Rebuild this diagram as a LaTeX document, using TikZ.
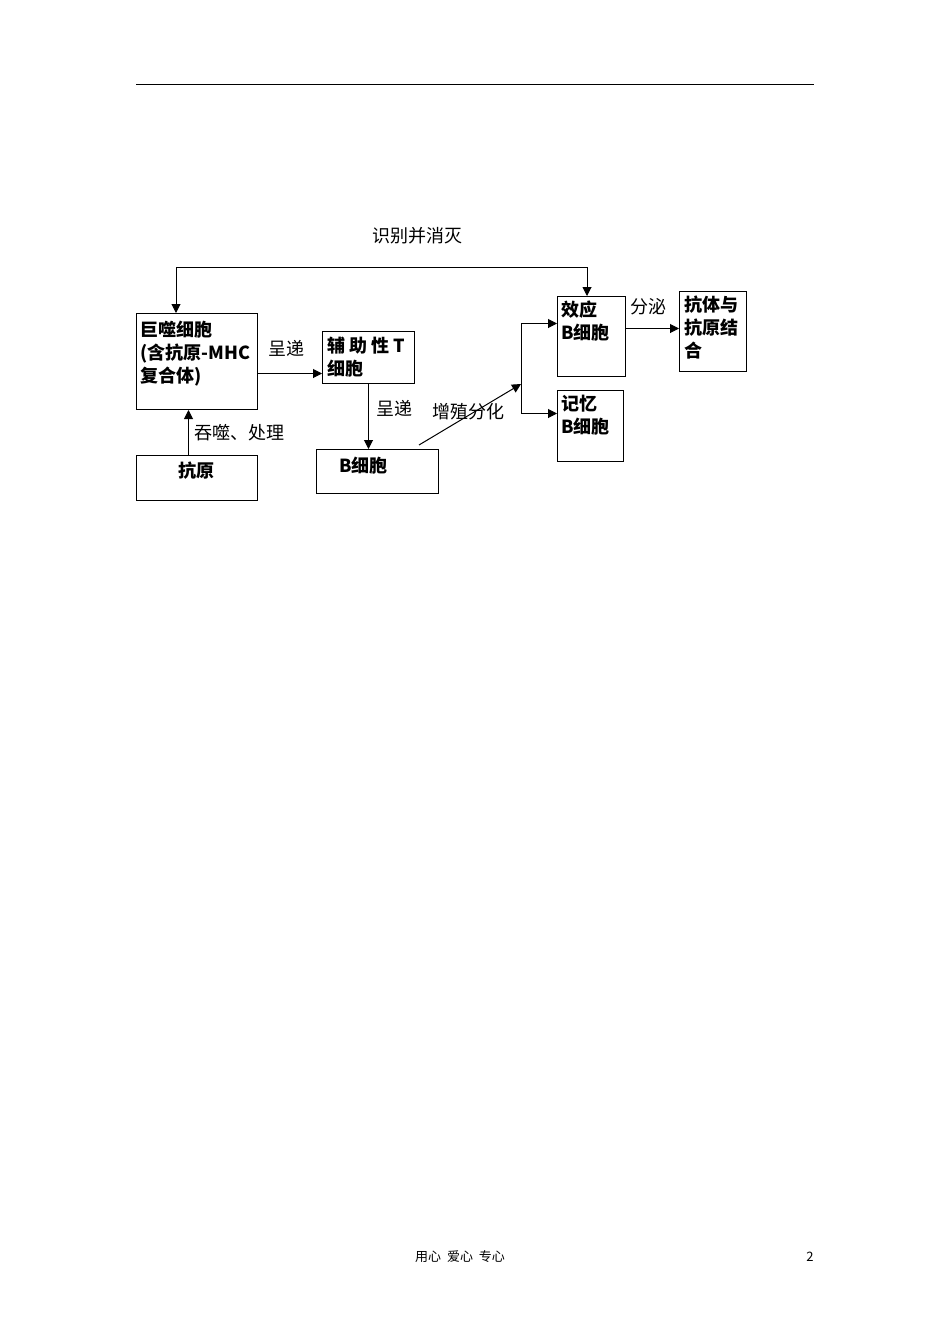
\documentclass[tikz,border=0pt]{standalone}
\usepackage{fontspec}
\setmainfont{Noto Sans CJK SC}
\usetikzlibrary{arrows.meta}
\begin{document}
\begin{tikzpicture}[x=1pt,y=-1pt,
  box/.style={draw, line width=1pt, inner sep=0pt, anchor=north west},
  btxt/.style={font=\fontsize{18}{23}\selectfont\bfseries, inner sep=0pt, anchor=north west, align=left},
  lbl/.style={font=\fontsize{18}{22}\selectfont, inner sep=0pt},
  arr/.style={line width=1pt, -{Triangle[length=9pt,width=9pt]}},
  ln/.style={line width=1pt}]
\useasboundingbox (0,0) rectangle (950,1344);
% top rule
\coordinate (ruleL) at (136,84);
\coordinate (ruleR) at (814,84);
\draw[line width=0.8pt] (ruleL) -- (ruleR);
% boxes
\node[box, minimum width=121, minimum height=96] (mac) at (136,313) {};
\node[box, minimum width=121, minimum height=45] (anti) at (136,455) {};
\node[box, minimum width=92, minimum height=52] (helper) at (322,331) {};
\node[box, minimum width=122, minimum height=44] (bcell) at (316,449) {};
\node[box, minimum width=68, minimum height=80] (eff) at (557,296) {};
\node[box, minimum width=66, minimum height=71] (mem) at (557,390) {};
\node[box, minimum width=67, minimum height=80] (ab) at (679,291) {};
% box texts
\node[btxt] (macT) at ([shift={(4,8)}]mac.north west) {巨噬细胞\\(含抗原-MHC\\复合体)};
\node[btxt, anchor=center] (antiT) at (196,471) {抗原};
\node[btxt] (helperT) at ([shift={(5,6)}]helper.north west) {辅 助 性 T\\细胞};
\node[btxt, anchor=west] (bcellT) at (339,466) {B细胞};
\node[btxt] (effT) at ([shift={(4,5)}]eff.north west) {效应\\B细胞};
\node[btxt] (memT) at ([shift={(4,5)}]mem.north west) {记忆\\B细胞};
\node[btxt] (abT) at ([shift={(5,5)}]ab.north west) {抗体与\\抗原结\\合};
% labels
\node[lbl] (l1) at (417,236) {识别并消灭};
\node[lbl, anchor=west] (l2) at (194,433) {吞噬、处理};
\node[lbl] (l3) at (286,348) {呈递};
\node[lbl] (l4) at (394,408) {呈递};
\node[lbl] (l5) at (468,412) {增殖分化};
\node[lbl] (l6) at (648,307) {分泌};
% connectors
\coordinate (fbL) at (176,267);
\coordinate (fbR) at (587,267);
\draw[arr] (fbR) -- (fbL) -- (mac.north -| fbL);
\draw[arr] (fbR) -- (eff.north -| fbR);
\draw[arr] ([xshift=-8.5]anti.north) -- ([xshift=-8.5]anti.north |- mac.south);
\draw[arr] ([yshift=-12]mac.east) -- ([yshift=-12]mac.east -| helper.west);
\draw[arr] (helper.south) -- (helper.south |- bcell.north);
\coordinate (bstart) at ([shift={(-20,-4)}]bcell.north east);
\coordinate (br) at (521,384);
\draw[arr] (bstart) -- (br);
\draw[arr] (br) |- ([yshift=13]eff.west);
\draw[arr] (br) |- ([yshift=12.5]mem.west);
\draw[arr] ([yshift=8]eff.east) -- ([yshift=8]eff.east -| ab.west);
% footer
\node[font=\fontsize{13}{15}\selectfont, inner sep=0pt] (foot) at (460,1257) {用心\ \ 爱心\ \ 专心};
\node[font=\fontsize{13}{15}\selectfont, inner sep=0pt] (page) at (810,1257) {2};
\end{tikzpicture}
\end{document}
